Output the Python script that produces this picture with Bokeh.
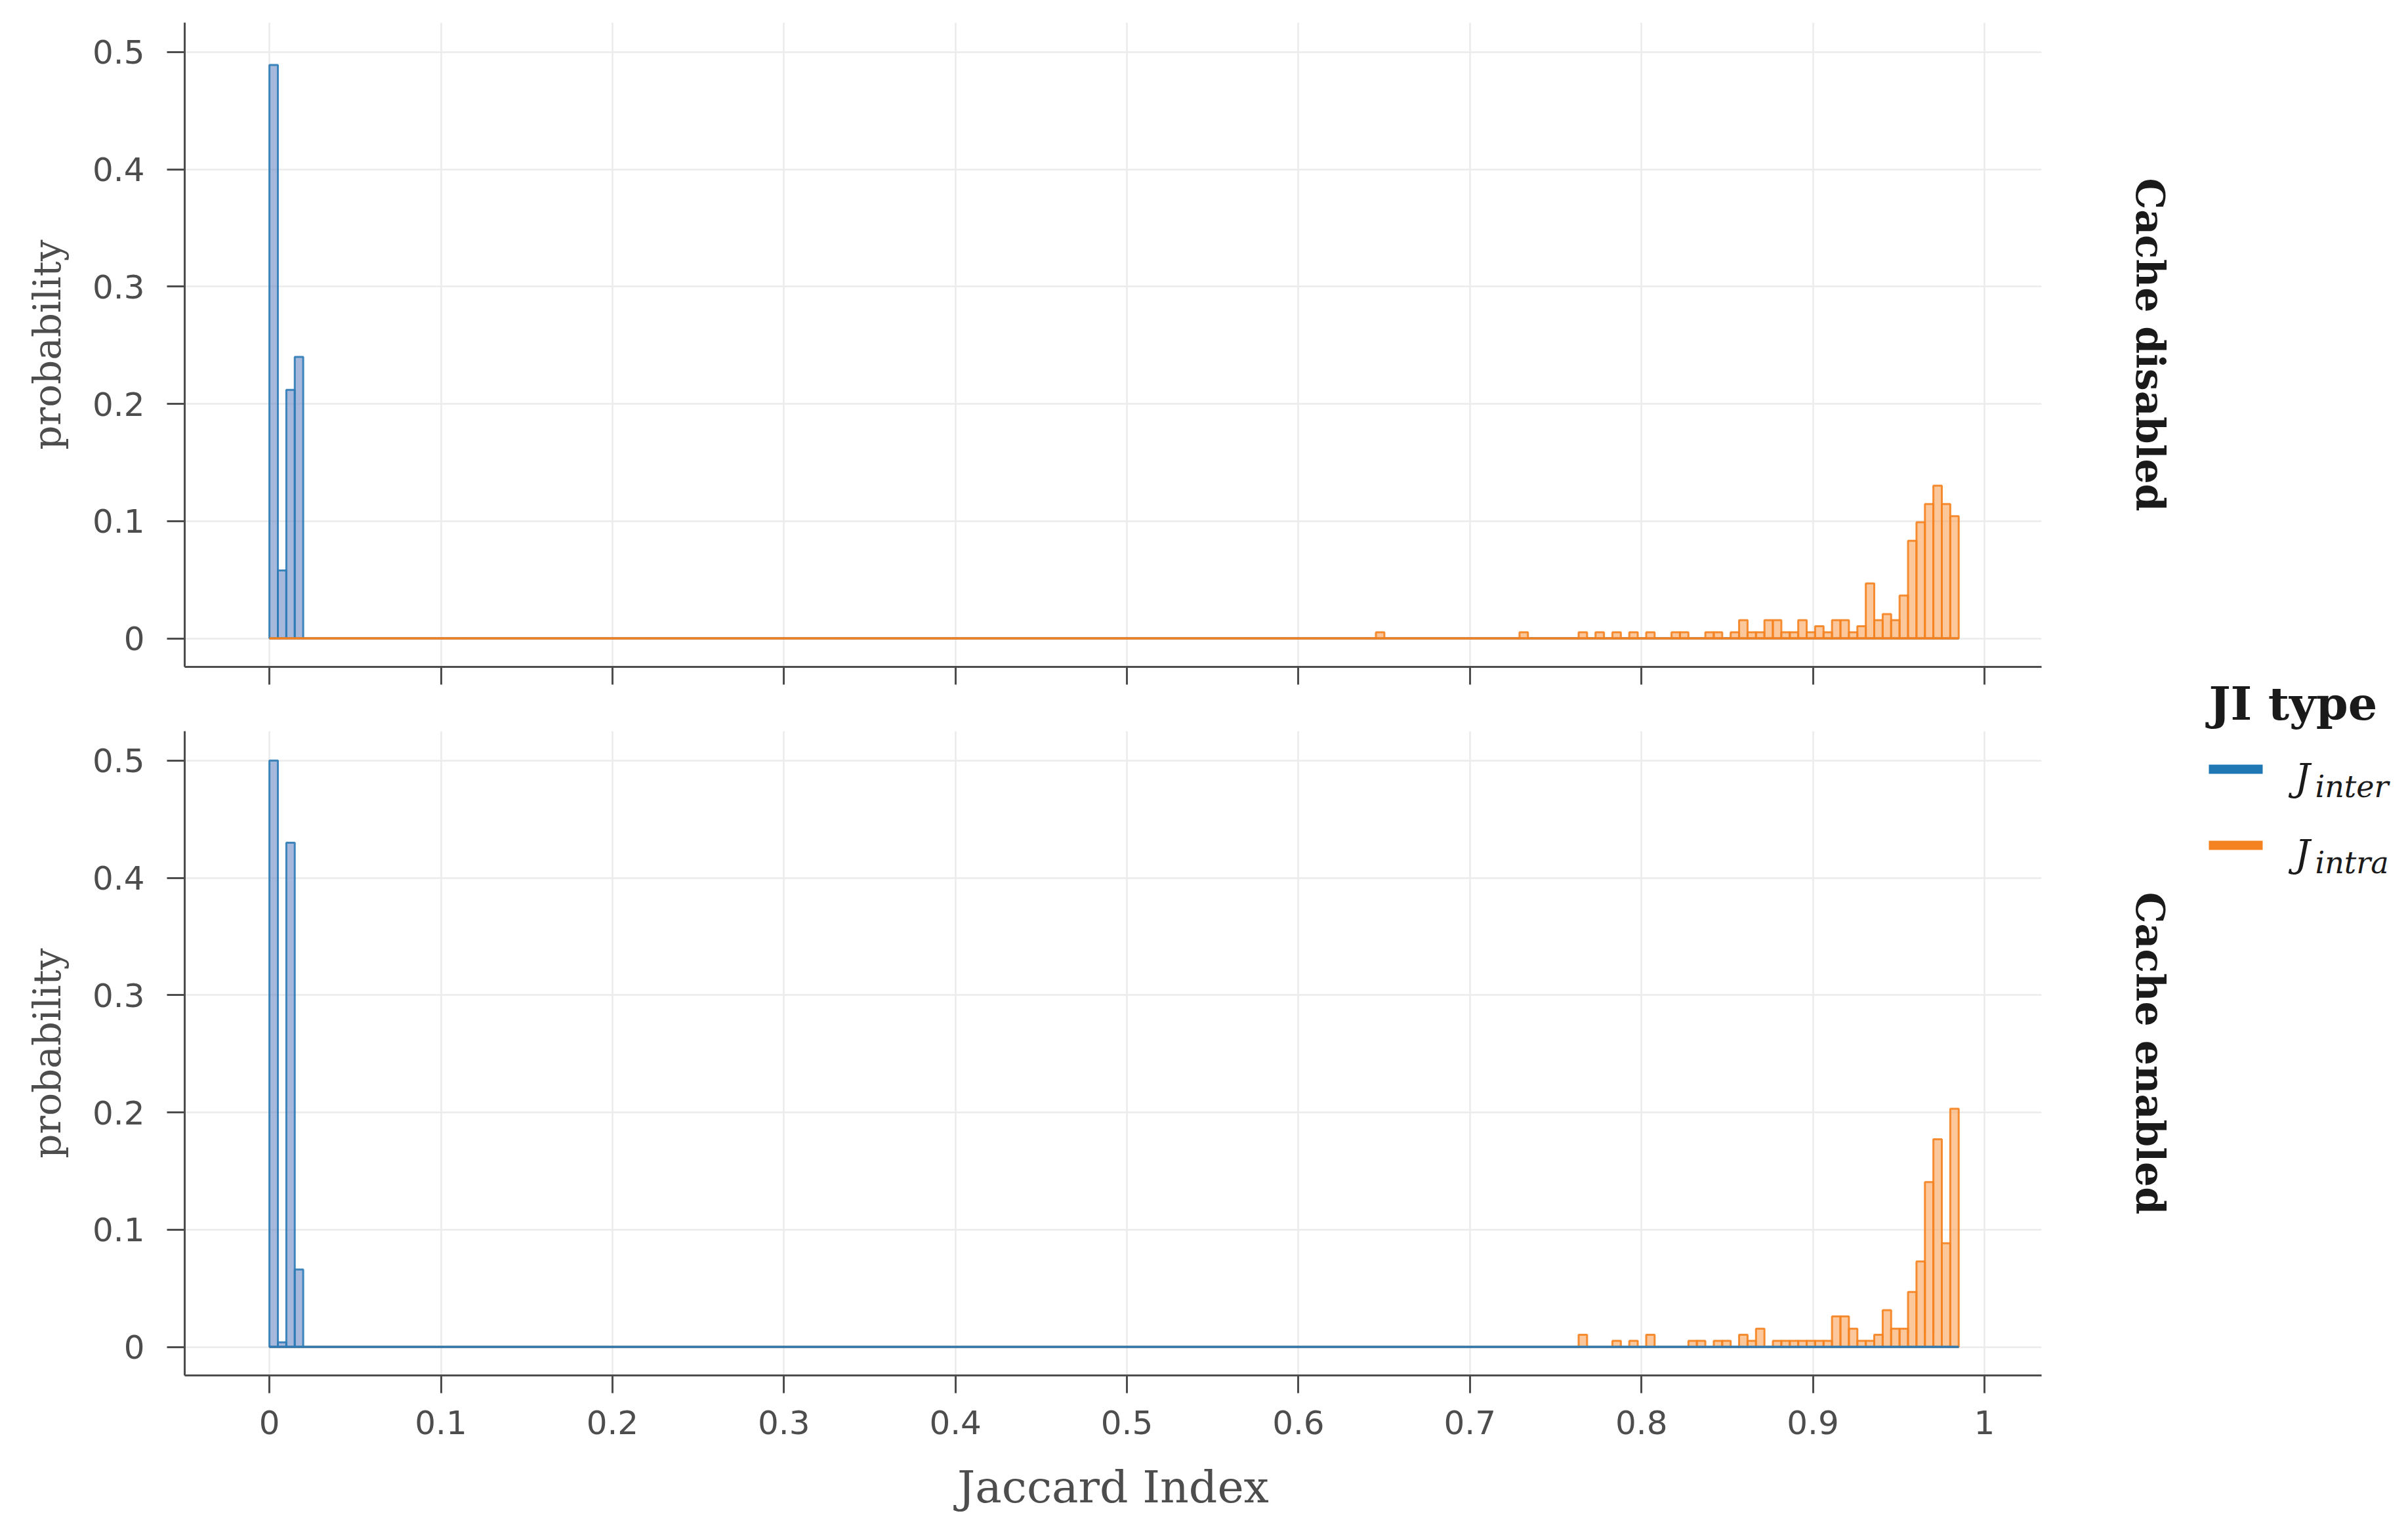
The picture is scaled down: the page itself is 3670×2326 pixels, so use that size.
import numpy as np
from math import pi
from bokeh.plotting import figure
from bokeh.models import Range1d, FixedTicker, CustomJSTickFormatter, Label, ColumnDataSource
from bokeh.layouts import row, column
from bokeh.embed import file_html
from bokeh.resources import INLINE

# ---------------- data ----------------
bin_min = 0.0
bin_max = 0.985
n_bins = 200

x_ticks = [0, 0.1, 0.2, 0.3, 0.4, 0.5, 0.6, 0.7, 0.8, 0.9, 1.0]
y_ticks = [0, 0.1, 0.2, 0.3, 0.4, 0.5]

x_title = "Jaccard Index"
y_title = "probability"
panel_names = ["Cache disabled", "Cache enabled"]
legend_title = "JI type"
series_subscripts = ["inter", "intra"]

# Cache disabled
dis_inter_bins = [0, 1, 2, 3]
dis_inter_prob = [0.489, 0.058, 0.212, 0.240]
dis_intra_bins = [131, 148, 155, 157, 159, 161, 163, 166, 167,
                  170, 171, 173, 174, 175, 176, 177, 178, 179, 180,
                  181, 182, 183, 184, 185, 186, 187, 188, 189, 190,
                  191, 192, 193, 194, 195, 196, 197, 198, 199]
dis_intra_prob = [0.0052, 0.0052, 0.0052, 0.0052, 0.0052, 0.0052, 0.0052, 0.0052, 0.0052,
                  0.0052, 0.0052, 0.0052, 0.0156, 0.0052, 0.0052, 0.0156, 0.0156, 0.0052, 0.0052,
                  0.0156, 0.0052, 0.0104, 0.0052, 0.0156, 0.0156, 0.0052, 0.0104, 0.0469, 0.0156,
                  0.0208, 0.0156, 0.0365, 0.0833, 0.0990, 0.1146, 0.1302, 0.1146, 0.1042]

# Cache enabled
ena_inter_bins = [0, 1, 2, 3]
ena_inter_prob = [0.500, 0.004, 0.430, 0.066]
ena_intra_bins = [155, 159, 161, 163, 168, 169, 171, 172, 174, 175, 176,
                  178, 179, 180, 181, 182, 183, 184, 185, 186, 187, 188,
                  189, 190, 191, 192, 193, 194, 195, 196, 197, 198, 199]
ena_intra_prob = [0.0104, 0.0052, 0.0052, 0.0104, 0.0052, 0.0052, 0.0052, 0.0052, 0.0104, 0.0052, 0.0156,
                  0.0052, 0.0052, 0.0052, 0.0052, 0.0052, 0.0052, 0.0052, 0.0260, 0.0260, 0.0156, 0.0052,
                  0.0052, 0.0104, 0.0313, 0.0156, 0.0156, 0.0469, 0.0729, 0.1406, 0.1771, 0.0885, 0.2031]

# ---------------- styling ----------------
BLUE_FILL, BLUE_LINE, BLUE_KEY = "#6b8ac6", "#2c7bb6", "#1f77b4"
ORANGE_FILL, ORANGE_LINE, ORANGE_KEY = "#faa358", "#f58220", "#f58220"
AXIS_COL = "#4d4d4d"
GRID_COL = "#ebebeb"
TEXT_COL = "#1a1a1a"

X0, X1 = -0.0494, 1.0333
Y0, Y1 = -0.0243, 0.5251

edges = np.linspace(bin_min, bin_max, n_bins + 1)


def full_hist(bins, probs):
    h = np.zeros(n_bins)
    h[np.array(bins)] = np.array(probs)
    return h


def draw_hist(p, bins, probs, fill, line):
    h = full_hist(bins, probs)
    src = ColumnDataSource(dict(left=edges[:-1], right=edges[1:], top=h, bottom=np.zeros(n_bins)))
    p.quad(left="left", right="right", top="top", bottom="bottom", source=src,
           fill_color=fill, fill_alpha=0.6, line_color=line, line_alpha=0.9, line_width=3)
    p.line(x=[edges[0], edges[-1]], y=[0, 0], line_color=line, line_width=3)


fmt = CustomJSTickFormatter(code="return String(Math.round(tick*10)/10);")


def make_panel(height, mbt, mbb, bottom):
    p = figure(width=3200, height=height,
               x_range=Range1d(X0, X1), y_range=Range1d(Y0, Y1),
               toolbar_location=None, output_backend="svg",
               min_border_left=281, min_border_right=89,
               min_border_top=mbt, min_border_bottom=mbb)
    p.outline_line_color = None
    p.background_fill_color = "white"
    p.border_fill_color = "white"
    p.xaxis.ticker = FixedTicker(ticks=x_ticks)
    p.yaxis.ticker = FixedTicker(ticks=y_ticks)
    p.xgrid.ticker = FixedTicker(ticks=x_ticks)
    p.ygrid.ticker = FixedTicker(ticks=y_ticks)
    p.grid.grid_line_color = GRID_COL
    p.grid.grid_line_width = 2.5
    for ax in (p.xaxis, p.yaxis):
        ax.formatter = fmt
        ax.axis_line_color = AXIS_COL
        ax.axis_line_width = 3
        ax.major_tick_line_color = AXIS_COL
        ax.major_tick_line_width = 3
        ax.major_tick_in = 0
        ax.major_tick_out = 27
        ax.minor_tick_in = 0
        ax.minor_tick_out = 0
        ax.major_label_text_font = "DejaVu Sans"
        ax.major_label_text_font_size = "50px"
        ax.major_label_text_color = AXIS_COL
        ax.axis_label_text_font = "DejaVu Serif"
        ax.axis_label_text_font_style = "normal"
        ax.axis_label_text_color = AXIS_COL
    p.yaxis.major_label_standoff = 34
    p.yaxis.axis_label = y_title
    p.yaxis.axis_label_text_font_size = "58px"
    p.yaxis.axis_label_standoff = 32
    if bottom:
        p.xaxis.major_label_standoff = 26
        p.xaxis.axis_label = x_title
        p.xaxis.axis_label_text_font_size = "68px"
        p.xaxis.axis_label_standoff = 38
    else:
        # ticks only: labels are not painted
        p.xaxis.major_label_text_color = None
        p.xaxis.major_label_standoff = 0
    return p


p_top = make_panel(1114, 34, 98, False)
draw_hist(p_top, dis_inter_bins, dis_inter_prob, BLUE_FILL, BLUE_LINE)
draw_hist(p_top, dis_intra_bins, dis_intra_prob, ORANGE_FILL, ORANGE_LINE)

p_bot = make_panel(1206, 0, 224, True)
draw_hist(p_bot, ena_intra_bins, ena_intra_prob, ORANGE_FILL, ORANGE_LINE)
draw_hist(p_bot, ena_inter_bins, ena_inter_prob, BLUE_FILL, BLUE_LINE)

# ---------------- right strip: facet labels + legend ----------------
pr = figure(width=470, height=2320, x_range=Range1d(3200, 3670), y_range=Range1d(2320, 0),
            toolbar_location=None, output_backend="svg", min_border=0,
            x_axis_type=None, y_axis_type=None)
pr.outline_line_color = None
pr.background_fill_color = "white"
pr.border_fill_color = "white"

for name, yc in zip(panel_names, [525, 1605]):
    pr.add_layout(Label(x=3276, y=yc, text=name, angle=-pi / 2, text_align="center",
                        text_baseline="middle", text_font="DejaVu Serif", text_font_style="bold",
                        text_font_size="60px", text_color=TEXT_COL))

pr.add_layout(Label(x=3366, y=1072, text=legend_title, text_align="left", text_baseline="alphabetic",
                    text_font="DejaVu Serif", text_font_style="bold", text_font_size="70px",
                    text_color=TEXT_COL))

for sub, col, yc in zip(series_subscripts, [BLUE_KEY, ORANGE_KEY], [1172, 1288]):
    pr.line(x=[3366, 3448], y=[yc, yc], line_color=col, line_width=14)
    pr.add_layout(Label(x=3497, y=yc + 12, text="J", text_align="left", text_baseline="alphabetic",
                        text_font="DejaVu Serif", text_font_style="italic", text_font_size="58px",
                        text_color=TEXT_COL))
    pr.add_layout(Label(x=3528, y=yc + 26, text=sub, text_align="left", text_baseline="alphabetic",
                        text_font="DejaVu Serif", text_font_style="italic", text_font_size="46px",
                        text_color=TEXT_COL))

layout = row(column(p_top, p_bot), pr)

open("out.html", "w").write(file_html(layout, INLINE))
